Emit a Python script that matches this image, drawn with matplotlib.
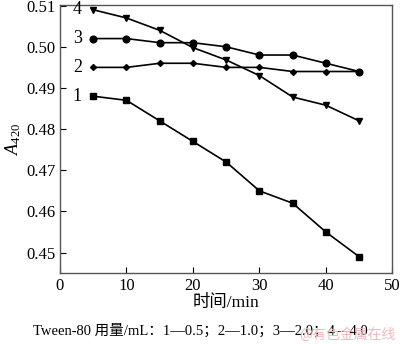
import matplotlib
matplotlib.use("Agg")
import matplotlib.pyplot as plt

plt.rcParams['font.family'] = ['Liberation Serif', 'Noto Sans CJK SC']
plt.rcParams['mathtext.fontset'] = 'custom'
plt.rcParams['mathtext.it'] = 'Liberation Serif:italic'
plt.rcParams['mathtext.rm'] = 'Liberation Serif'

time_min = [5, 10, 15, 20, 25, 30, 35, 40, 45]
a1 = [0.488, 0.487, 0.482, 0.477, 0.472, 0.465, 0.462, 0.455, 0.449]
a2 = [0.495, 0.495, 0.496, 0.496, 0.495, 0.495, 0.494, 0.494, 0.494]
a3 = [0.502, 0.502, 0.501, 0.501, 0.500, 0.498, 0.498, 0.496, 0.494]
a4 = [0.509, 0.507, 0.504, 0.4998, 0.4968, 0.493, 0.4878, 0.4858, 0.482]
labels = ["1", "2", "3", "4"]
xticks = [0, 10, 20, 30, 40, 50]
yticks = [0.45, 0.46, 0.47, 0.48, 0.49, 0.50, 0.51]

fig = plt.figure(figsize=(4, 3.44), dpi=100)
ax = fig.add_axes([0.15, 0.207, 0.831, 0.779])

series = [(a1, "s", 4.3), (a2, "D", 3), (a3, "o", 4.8), (a4, "v", 4.8)]
for (ys, m, ms), lab in zip(series, labels):
    ax.plot(time_min, ys, color="black", lw=1.2, marker=m, ms=ms)
    ax.text(3.3, ys[0], lab, fontsize=13, ha="right", va="center")

ax.set_xlim(0, 50)
ax.set_ylim(0.4451, 0.5102)
ax.set_xticks(xticks)
ax.set_yticks(yticks)
ax.set_yticklabels([f"{v:.2f}" for v in yticks])
ax.tick_params(direction="in", labelsize=12, length=4, top=False, right=False)
for s in ax.spines.values():
    s.set_color("#555555")
    s.set_linewidth(1.0)

ax.set_xlabel("时间/min", fontsize=12.5, labelpad=1)
ax.set_ylabel("$A_{420}$", fontsize=13, labelpad=2)

fig.text(0.5, 0.04, "Tween-80 用量/mL：1—0.5；2—1.0；3—2.0；4—4.0",
         ha="center", va="center", fontsize=10.5)
fig.text(0.99, 0.028, "@有色金属在线", ha="right", va="center",
         fontsize=10, color="#f2b8c0", family=['Noto Sans CJK SC'])

plt.savefig("out.png", dpi=100)
